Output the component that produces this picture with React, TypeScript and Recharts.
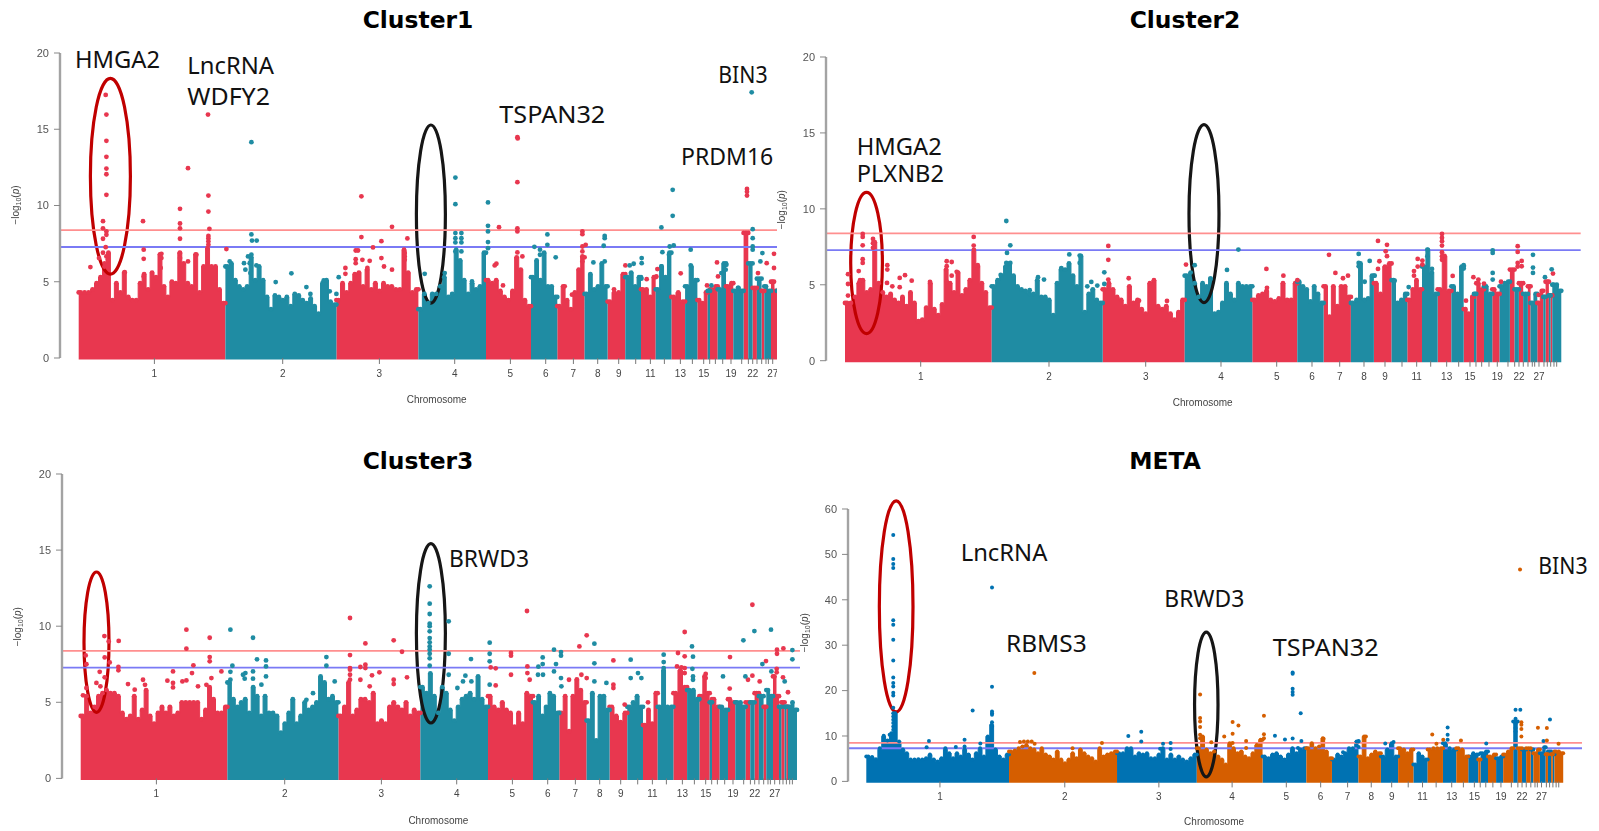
import React from 'react';
import { ComposedChart, Area, Scatter, XAxis, YAxis, ReferenceLine, ReferenceArea, Label } from 'recharts';

type Pt = [number, number];

const chrLengths = [146.7, 111, 82, 67.6, 45, 26.3, 27.3, 23, 17.7, 15.7, 14.7, 15.7, 13.7, 12.3, 10.3, 2.3, 7.7, 8.3, 7.3, 10.3, 4.7, 4.3, 4.3, 4.7, 2.7, 6.7, 6, 2.3, 3.3, 1.7, 1.7, 9];
const chrTicks = [75.7, 204, 300.7, 376, 431.7, 467, 494.7, 519, 540, 557, 571.7, 585.7, 601.7, 613.7, 625, 631, 636.7, 644, 652.3, 663, 669.7, 674, 678.3, 683, 687.3, 689.7, 694, 699, 702.3, 705.7, 709, 711.7];
const chrTickLabels = ['1', '2', '3', '4', '5', '6', '7', '8', '9', '', '11', '', '13', '', '15', '', '', '', '19', '', '', '22', '', '', '', '', '27', '', '', '', '', ''];

const RED = '#e8374f';
const TEAL = '#1f8ca3';
const BLUE = '#0072b2';
const ORANGE = '#d55e00';

const cluster1Envelope: number[][] = [
  [4.3, 4.3, 4.3, 4.5, 4.9, 5.3, 6.0, 6.9, 3.8, 4.9, 4.3, 5.6, 4.0, 3.8, 3.8, 4.9, 5.5, 4.5, 5.6, 5.3, 6.8, 4.7, 4.0, 5.0, 4.9, 6.9, 6.2, 4.9, 4.7, 6.8, 4.3, 6.0, 7.2, 6.0, 6.0, 4.5, 3.6],
  [6.0, 6.2, 5.1, 4.7, 4.5, 4.7, 6.6, 5.1, 6.0, 5.1, 4.0, 3.2, 4.1, 4.0, 3.8, 4.0, 3.4, 4.2, 4.1, 3.8, 3.6, 3.9, 3.4, 2.9, 4.9, 5.1, 3.7, 3.5],
  [3.8, 4.9, 4.3, 4.9, 5.5, 5.6, 4.7, 5.8, 4.5, 4.9, 4.4, 4.9, 4.7, 4.7, 4.5, 4.5, 7.1, 5.6, 4.3, 4.5],
  [3.2, 4.2, 3.6, 4.2, 4.2, 4.7, 5.3, 4.0, 4.2, 7.1, 6.4, 5.1, 4.2, 4.9, 4.5, 4.7, 6.9],
  [5.1, 4.9, 5.1, 4.4, 4.0, 3.8, 4.4, 6.6, 5.8, 3.8, 3.4],
  [5.3, 6.4, 5.1, 6.9, 4.7, 4.7, 4.0],
  [3.4, 4.7, 3.8, 3.2, 4.3, 5.8, 6.6],
  [4.2, 5.5, 4.5, 4.7, 6.2, 4.7],
  [3.7, 4.3, 4.3, 5.5],
  [5.3, 5.6, 4.7, 5.3],
  [4.5, 4.5, 4.0, 5.3],
  [4.5, 6.0, 5.3, 6.9],
  [4.0, 4.3, 3.7],
  [4.7, 6.0, 5.1],
  [3.8, 3.6, 4.3],
  [4.4],
  [4.5, 4.7],
  [4.5, 6.2],
  [4.7, 4.9],
  [4.4, 4.6, 4.4],
  [8.2],
  [6.2],
  [4.6],
  [5.2],
  [4.4],
  [4.7, 4.4],
  [5.0, 4.4],
  [4.4],
  [4.6],
  [4.2],
  [4.2],
  [4.4, 4.6, 4.2],
];
const cluster1RedPoints: Pt[] = [[27, 17.25], [27.7, 15.96], [27.7, 14.24], [27.7, 13.19], [27.7, 12.42], [27.7, 12.05], [27.7, 10.7], [24.3, 8.97], [24.3, 8.5], [27.7, 8.3], [27.7, 8.08], [24.3, 7.82], [27, 7.27], [24.3, 6.9], [27.7, 6.66], [20.3, 6.55], [29, 6.44], [26, 6.2], [11.7, 5.96], [46, 5.63], [64.3, 8.97], [65, 7.1], [65, 6.5], [65, 5.35], [82.7, 6.83], [82.7, 6.55], [82, 5.9], [101.3, 9.78], [101.3, 8.82], [101.3, 8.5], [101.3, 7.82], [101.3, 6.88], [101.3, 6.55], [102.7, 6.1], [109.3, 12.45], [109.3, 6.33], [117.7, 6.77], [129.3, 15.96], [129.7, 10.65], [129.7, 9.6], [130.7, 8.47], [129.7, 8], [129.7, 7.84], [129.7, 7.64], [129.7, 7.42], [147.7, 7.14], [282.7, 10.6], [282.7, 7.93], [313.3, 8.6], [294.3, 7.25], [302.7, 7.66], [277, 7.05], [279.3, 7.05], [277, 6.48], [277, 6.22], [283.7, 6.44], [291, 6.37], [302.7, 6.55], [305.3, 6], [313.3, 5.79], [288.7, 5.9], [266.7, 5.9], [266.7, 5.52], [326, 6.88], [326, 6.66], [326, 6.44], [328.7, 7.84], [420.3, 8.58], [438.7, 14.48], [439, 14.4], [438.7, 11.53], [438.7, 8.5], [438.7, 8.3], [438.7, 6.92], [443.7, 6.66], [417.7, 6.18], [416, 6.07], [424.3, 4.76], [503.7, 8.3], [503.7, 8.12], [507, 7.42], [503.7, 7.31], [503.7, 6.99], [503.7, 6.66], [503.7, 6.33], [486, 4.7], [493.3, 4.15], [546.7, 6.07], [535.3, 4.5], [568, 5.17], [578.7, 5.83], [577.7, 5.35], [602, 5.55], [628.3, 4.76], [638.3, 6.27], [639.3, 5.35], [668.3, 11.09], [668.3, 10.9], [668.3, 10.65], [695.3, 6.83], [688, 6.22], [695.3, 5.9], [695.3, 5], [679.3, 5.57]];
const cluster1TealPoints: Pt[] = [[172.7, 14.15], [172.7, 8.1], [173.3, 7.7], [178, 7.7], [172.7, 6.77], [169.3, 6.66], [165.3, 6.22], [171, 6.22], [177.7, 6.07], [166.7, 5.79], [171.7, 5.57], [151, 6.33], [212.7, 5.55], [197, 4.98], [227.7, 4.65], [231.7, 4.2], [251, 4.37], [245, 5.09], [260, 5.3], [257.7, 4.2], [376.7, 11.83], [376.7, 10.09], [376.7, 8.19], [376.7, 7.86], [376.7, 7.58], [382.7, 8.19], [382.7, 7.86], [382.7, 7.58], [376.7, 6.99], [382.7, 6.99], [409.3, 10.2], [409.3, 8.67], [409.3, 8.3], [409.3, 7.6], [409.3, 7.2], [346, 5.52], [366, 5.57], [393.3, 5.02], [455.7, 7.29], [468.7, 8.1], [468.7, 7.42], [461.3, 7.1], [461.3, 6.77], [477, 6.6], [526, 8], [526, 7.86], [525, 7.36], [514.7, 6.27], [526, 6.33], [551, 6.07], [555, 6.18], [563, 6.55], [563, 6.22], [562.7, 5.2], [582.7, 8.56], [583.7, 6.94], [591, 7.31], [595, 7.38], [594, 11.03], [594, 9.32], [590.3, 6.77], [582.7, 6], [612, 7.1], [612, 6.07], [632.7, 4.76], [642.7, 5.57], [647.7, 6.11], [647, 5.79], [659.3, 4.6], [673, 17.42], [674, 8.45], [674, 7.86], [674, 7.31], [674, 7.1], [683.7, 6.88], [681.7, 6.33]];

const cluster2Envelope: number[][] = [
  [3.8, 3.8, 4.2, 5.1, 5.3, 4.5, 4.7, 7.8, 5.1, 4.5, 4.2, 4.4, 4.0, 3.8, 4.2, 3.6, 4.5, 3.8, 2.6, 2.7, 3.5, 5.1, 3.4, 3.0, 3.7, 6.0, 5.1, 4.5, 5.8, 4.3, 4.7, 5.3, 7.3, 6.2, 5.1, 4.5, 3.5],
  [4.9, 5.3, 5.6, 6.2, 6.4, 5.6, 4.9, 4.7, 4.6, 4.4, 4.4, 5.3, 4.2, 4.2, 4.0, 3.0, 5.1, 6.0, 6.0, 6.4, 5.6, 4.9, 6.9, 3.2, 4.4, 4.7, 4.0, 3.8],
  [4.7, 5.1, 4.7, 4.2, 4.0, 3.6, 4.9, 3.8, 4.0, 3.4, 3.1, 5.1, 5.3, 3.6, 3.4, 3.6, 3.1, 2.7, 3.2, 4.0],
  [5.6, 5.8, 5.1, 4.2, 5.1, 4.9, 5.4, 3.1, 3.2, 3.8, 5.1, 4.4, 4.0, 5.1, 4.9, 4.9, 4.9],
  [4.0, 4.3, 4.4, 4.6, 4.0, 3.9, 4.1, 5.1, 4.0, 4.0, 5.1],
  [5.2, 4.9, 4.7, 3.9, 4.9, 4.4, 3.8],
  [4.9, 2.9, 4.9, 3.6, 4.9, 4.9, 4.2],
  [3.8, 4.0, 6.4, 4.0, 4.1, 5.6],
  [5.1, 4.4, 6.2, 6.4],
  [5.3, 3.8, 4.0, 4.4],
  [4.0, 4.7, 5.3, 4.7],
  [6.2, 7.3, 5.8, 4.4],
  [4.7, 6.9, 4.6],
  [4.9, 4.4, 6.2],
  [3.4, 3.1, 4.2],
  [4.4],
  [5.1, 4.7],
  [4.9, 4.4],
  [4.7, 4.4],
  [4.9, 5.1, 5.2],
  [6.0],
  [4.7],
  [5.1],
  [4.4],
  [4.9],
  [3.8, 4.4],
  [3.8, 4.6],
  [4.2],
  [5.2],
  [4.3],
  [4.3],
  [5.0, 5.0, 4.6],
];
const cluster2RedPoints: Pt[] = [[3, 5.7], [3, 5.05], [3, 4.29], [13.7, 5.9], [17.7, 8.35], [17.7, 8.15], [17.7, 7.6], [17.7, 6.68], [17.7, 6.44], [15, 5.3], [28, 8.02], [28, 7.74], [28, 7.43], [42.3, 6.29], [42.3, 6], [42, 5.12], [47.3, 4.9], [54.7, 5.45], [54.7, 4.84], [60, 5.63], [66.7, 5.27], [85, 5.19], [101.7, 6.55], [101.7, 6.22], [106.7, 6.5], [106.7, 5.6], [111.7, 5.85], [101.7, 5.2], [128.7, 8.15], [128.7, 7.58], [132.7, 6.29], [263.3, 7.56], [263.3, 6.64], [263.3, 5.34], [283.7, 5.43], [341, 6.33], [322, 3.93], [294, 3.95], [421.4, 6.04], [438.4, 5.6], [452.4, 5.3], [422, 4.8], [484, 6.97], [490.4, 5.78], [498, 5.43], [503, 5.6], [533, 7.89], [542, 7.63], [540.7, 7.2], [542, 6.88], [534.4, 6.55], [533, 6.04], [572.7, 6.7], [577.4, 6.59], [572.7, 6.2], [569, 5.9], [577.4, 6.33], [569, 5.6], [597, 8.35], [597, 8.09], [597, 7.87], [597, 7.58], [597, 7.14], [597, 6.88], [597, 6.64], [607.7, 5.58], [621, 3.95], [628.4, 5.5], [633.4, 5.34], [639, 5.08], [656, 5.2], [672.7, 7.54], [672.7, 7.16], [672.7, 6.44], [672.7, 6.2], [676.7, 6.57], [676.7, 6.22], [693.7, 4.33], [708, 5.74]];
const cluster2TealPoints: Pt[] = [[161.3, 9.2], [165.3, 7.6], [162, 7.1], [155.7, 5.65], [161.3, 6.44], [165.3, 6.44], [184.7, 4.64], [199, 5.34], [193, 5.5], [224.3, 7], [234.7, 6.92], [234.7, 6.44], [246.3, 5.19], [252.3, 4.95], [242.3, 4.9], [216.3, 6.1], [259.3, 5.82], [259.3, 5.05], [393.4, 7.32], [382, 5.98], [349.7, 6.29], [365.4, 5.4], [513.7, 7.03], [513.7, 6.44], [513.7, 6.22], [524.7, 6.57], [519.7, 5.2], [529.7, 5.6], [549.7, 5.27], [563.7, 4.85], [582.4, 7.32], [582.4, 6.88], [587, 6.04], [618.7, 6.29], [618.7, 6.07], [647.7, 7.27], [647.7, 7.1], [647.7, 5.78], [647.7, 5.34], [688, 6.97], [688, 6.13], [688, 5.78], [706.7, 6.02], [700, 5.5], [711.4, 4.9]];

const cluster3Envelope: number[][] = [
  [4.1, 5.4, 4.3, 4.7, 5.4, 5.6, 5.8, 5.6, 5.6, 5.4, 4.3, 3.9, 4.1, 5.4, 3.9, 4.5, 5.8, 4.1, 3.6, 4.3, 4.7, 4.3, 4.7, 4.1, 4.3, 5.0, 5.0, 5.0, 5.0, 5.0, 3.9, 4.5, 6.0, 5.2, 4.3, 4.3, 4.7],
  [6.3, 5.2, 4.7, 5.0, 5.2, 4.3, 6.0, 5.4, 4.1, 5.4, 4.3, 4.3, 4.1, 3.0, 3.6, 4.3, 5.2, 3.6, 4.1, 5.0, 4.5, 4.7, 5.0, 6.7, 6.3, 5.2, 5.4, 5.0],
  [4.1, 4.7, 6.3, 4.1, 4.5, 5.2, 5.2, 5.0, 5.6, 3.6, 3.8, 3.6, 4.7, 5.0, 4.7, 4.5, 5.0, 4.1, 4.5, 4.3],
  [6.0, 5.6, 6.9, 5.4, 4.3, 6.0, 5.6, 4.5, 3.8, 4.7, 5.2, 5.4, 5.6, 5.2, 6.7, 5.2, 4.7],
  [5.4, 4.7, 4.5, 5.0, 4.5, 4.3, 3.4, 4.3, 3.6, 5.6, 5.4],
  [5.0, 5.4, 4.1, 4.7, 5.6, 5.4, 4.3],
  [4.3, 5.4, 3.1, 5.4, 6.5, 5.8, 5.0],
  [3.8, 5.6, 2.5, 5.4, 5.4, 4.5],
  [4.7, 4.1, 3.7, 4.3],
  [4.7, 5.0, 5.4, 4.7],
  [3.5, 4.5, 3.6, 5.6],
  [4.7, 7.1, 4.7, 4.7],
  [5.6, 7.1, 6.0],
  [5.8, 5.8, 5.2],
  [5.4, 6.7, 5.6],
  [5.0],
  [5.2, 4.7],
  [4.7, 4.5],
  [5.2, 5.0],
  [5.0, 5.0, 4.7],
  [5.0],
  [5.0],
  [5.6],
  [5.4],
  [4.7],
  [5.8, 5.4],
  [6.7, 5.4],
  [4.7],
  [5.0],
  [4.7],
  [4.7],
  [4.7, 5.0, 4.5],
];
const cluster3RedPoints: Pt[] = [[23.7, 9.35], [28, 9], [38, 9.03], [5, 8.08], [5.7, 7.5], [24, 7.95], [29, 7.62], [37.7, 7.32], [37.7, 7.1], [19, 7], [24, 6.64], [5.7, 5.94], [15.7, 6.27], [19.7, 6.05], [2.3, 5.46], [47.3, 6.2], [54, 5.83], [62.3, 6.48], [64.3, 6.15], [92.3, 7.03], [86.7, 6.42], [92.3, 6.27], [92.3, 5.98], [105.7, 9.77], [105.7, 8.52], [112.7, 7.43], [111.3, 6.92], [101.7, 6.37], [105.7, 6.44], [117.3, 6.05], [129, 9.24], [129, 7.97], [129, 7.69], [130.7, 6.59], [140.7, 7.03], [125.7, 6.15], [269.3, 10.54], [269.3, 8.1], [269.3, 7.25], [269.3, 7.14], [284.7, 8.87], [284.7, 7.47], [284.7, 7.25], [279.7, 7.32], [291.3, 6.77], [298.7, 6.97], [313, 9.07], [321.3, 8.32], [326.3, 6.64], [313, 6.48], [313, 6.2], [269.3, 6.81], [269.3, 6.48], [279.7, 6.48], [289, 6.05], [410, 7.29], [415, 7.23], [415, 6.11], [430.3, 8.24], [430.3, 8.06], [430.3, 6.81], [446.3, 11], [446.7, 7.36], [446.7, 6.92], [449, 6.48], [488.3, 6.48], [498.7, 8.67], [506, 9.4], [500.7, 6.81], [506, 6.59], [532.7, 7.75], [532.7, 6.16], [532.7, 5.94], [544, 4.85], [567.3, 5], [597.3, 8.24], [604, 9.62], [604, 8.02], [596.3, 7.36], [604, 7.25], [600.7, 7.29], [604, 6.92], [625, 6.86], [625, 6.59], [649.3, 7.97], [649, 5.9], [671.7, 11.41], [671.7, 6.75], [667.3, 6.48], [685.3, 7.71], [679, 6.37], [696.3, 8.46], [696.3, 8.19], [702.7, 8.54], [696, 7.2], [696, 6.97], [702.3, 6.64], [707.3, 5.66]];
const cluster3TealPoints: Pt[] = [[149.7, 9.77], [151.7, 7.4], [149.7, 7], [149.7, 6.48], [172.3, 9.24], [176.3, 7.82], [185.3, 7.75], [185.3, 7.36], [172.3, 7.03], [164.7, 6.92], [162.3, 6.81], [172.3, 6.55], [185.3, 6.7], [180.7, 6.16], [164, 6.55], [245.7, 7.97], [245.7, 7.4], [254, 6.37], [232.3, 5.6], [225.7, 5.16], [349, 12.62], [349, 11.48], [349, 10.8], [349, 10.16], [349, 10], [349, 9.66], [349, 9.22], [349, 8.94], [349, 8.67], [349, 8.46], [349, 8.19], [349, 7.89], [349, 7.4], [368, 10.32], [368, 8.19], [368, 6.81], [390.3, 7.84], [384.7, 6.75], [382.3, 6.37], [390.7, 6.37], [376.7, 5.94], [409, 8.92], [409, 8.19], [409, 7.69], [409, 6.16], [457.7, 7.34], [462, 7.95], [462, 7.51], [457.3, 6.81], [462.3, 6.81], [473.3, 8.46], [480.3, 8.3], [480.3, 8.06], [475.3, 7.51], [473.3, 7.03], [480.3, 6.59], [480.7, 6.05], [513.7, 8.85], [513.7, 7.56], [513.7, 6.37], [525.7, 6.27], [550, 7.8], [550, 6.59], [557.3, 6.92], [560.7, 6.59], [583, 8.13], [583, 7.64], [583, 7.25], [611.3, 8.67], [612.3, 8], [611.7, 7.2], [612.3, 6.7], [612.3, 6.48], [642.3, 6.7], [662.7, 9.07], [664.7, 6.7], [673.7, 9.68], [681.7, 7.51], [690.3, 9.77], [690.7, 7.03], [711.7, 8.43], [711.7, 7.82], [704, 6.37]];

const metaEnvelope: number[][] = [
  [5.5, 5.4, 4.9, 7.3, 9.9, 9.0, 10.6, 15, 8.8, 7, 6.2, 4.8, 4.8, 4.9, 4.8, 5.1, 5.9, 4.8, 4.4, 5.1, 7.3, 6.2, 5.1, 6.2, 5.5, 7, 5.9, 4.8, 6.2, 7.3, 5.5, 9.9, 12.5, 7, 5.5, 4.8, 5.9],
  [6.6, 6.8, 7.3, 7.7, 8.0, 7.3, 7, 6.2, 7.3, 5.9, 5.5, 4.8, 6.6, 4.8, 4.0, 4.8, 6.2, 5.1, 7, 6.2, 5.5, 5.1, 4.4, 7.3, 5.5, 5.9, 6.2, 6.6],
  [6.2, 6.2, 7.3, 7.3, 5.5, 6.2, 5.9, 6.2, 5.1, 5.1, 5.9, 7.3, 4.8, 5.9, 4.8, 5.5, 4.8, 4.4, 5.1, 5.9],
  [7.3, 9.9, 7, 6.2, 6.6, 5.5, 4.8, 3.7, 8.4, 7.3, 6.2, 6.6, 5.5, 5.1, 6.2, 8, 9.2],
  [5.5, 5.1, 5.9, 6.2, 5.5, 4.8, 5.9, 7.3, 6.2, 7, 7.3],
  [7.3, 8.4, 7.3, 7.7, 9.5, 6.6, 5.1],
  [4.8, 5.9, 5.5, 6.2, 7.3, 7.3, 8.8],
  [5.5, 9.9, 5.1, 5.9, 6.6, 6.2],
  [5.5, 7, 8.4, 5.5],
  [7.3, 7, 6.2, 7],
  [3.7, 6.2, 5.5, 4.8],
  [7, 7.3, 7.3, 7.3],
  [8.4, 7.3, 7],
  [7.3, 7, 5.5],
  [5.5, 6.2, 5.9],
  [4.8],
  [6.2, 6.6],
  [5.5, 5.9],
  [5.1, 5.5],
  [5.9, 6.6, 7.3],
  [13.2],
  [7.3],
  [7],
  [7.3],
  [7],
  [6.2, 7],
  [6.2, 7.5],
  [6],
  [6.6],
  [6],
  [6],
  [6.6, 6.6, 6.2],
];
const metaBluePoints: Pt[] = [[27.7, 54.3], [27.7, 49], [27.7, 47.9], [27.7, 47], [27.7, 35.5], [27.7, 34.5], [27.7, 31.2], [27.7, 26.65], [27.7, 22.9], [27.7, 21.7], [27.7, 20.9], [27.7, 19.5], [27.7, 18.9], [27.7, 16.2], [27.7, 15], [27.7, 14.3], [27.7, 13.6], [27.7, 12.85], [27.7, 12.1], [27.7, 11.4], [27.7, 10.6], [17.9, 10.06], [24, 10.3], [129.2, 42.7], [129.2, 20.85], [129.2, 15.4], [129.2, 15], [129.2, 14.7], [129.2, 13], [129.2, 12.1], [109.3, 15.64], [64.4, 8.88], [62, 7.5], [101, 9.18], [101, 7.7], [92, 7.56], [117.2, 8.37], [269.3, 9.99], [282.6, 10.94], [282.6, 8.8], [305, 8.3], [312.8, 8.44], [312.8, 7.12], [302, 7.2], [420, 10.06], [430.3, 9.25], [438.2, 24.0], [438.2, 23.7], [438.2, 20.4], [438.2, 19.7], [438.2, 19.1], [446.5, 15], [438.2, 9.47], [447.2, 8.88], [438.2, 7.2], [443.7, 7.35], [506, 8.88], [506, 7.56], [490, 6.4], [533.4, 8.37], [541.9, 8.66], [597.5, 11.89], [597.5, 10.3], [597.5, 9.18], [637.2, 8.37], [667.3, 15.79], [672.2, 15.79], [667.3, 13.8], [667.3, 12.7], [667.3, 11.75], [667.3, 11], [702.7, 13.66], [696, 8.9]];
const metaOrangePoints: Pt[] = [[172.7, 23.86], [158, 8.66], [162, 8.8], [166, 8.8], [170, 8.8], [173, 8.3], [242.2, 8.44], [212, 7.3], [343.1, 19.16], [343.1, 13.95], [343.1, 13.2], [343.1, 12], [343.1, 10.3], [343.1, 9.5], [354.6, 8.6], [367.9, 9.9], [376.5, 13.07], [376.5, 10.5], [382.5, 12.33], [376.5, 8.45], [390.4, 8.88], [390.4, 7.34], [408.7, 14.46], [408.7, 10.4], [408.7, 9.5], [470, 9.4], [513.5, 9.9], [581.7, 10.35], [586, 8.3], [593, 9.18], [611.2, 9], [671.9, 46.7], [673.3, 13], [673.3, 12.5], [673.3, 11.53], [673.3, 9.9], [690.3, 11.82], [699.5, 11.75], [699.5, 9], [711.5, 8.3]];

const thresholdsCluster = [8.38, 7.28];
const thresholdsMeta = [8.5, 7.3];

function rowsFrom(env: number[][]) {
  const rows: { x: number; odd: number | null; even: number | null }[] = [];
  let start = 0;
  env.forEach((vals, c) => {
    const len = chrLengths[c];
    const key = c % 2 === 0 ? 'odd' : 'even';
    const push = (x: number, v: number) => {
      rows.push({ x, odd: key === 'odd' ? v : null, even: key === 'even' ? v : null });
    };
    push(start, vals[0]);
    vals.forEach((v, i) => push(start + ((i + 0.5) / vals.length) * len, v));
    push(start + len, vals[vals.length - 1]);
    start += len;
  });
  return rows;
}

const toPts = (pts: Pt[]) => pts.map(([x, y]) => ({ x, y }));

type Ell = { x1: number; x2: number; y1: number; y2: number; color: string };

const ellipseShape = (color: string) => (p: any) => (
  <ellipse cx={p.x + p.width / 2} cy={p.y + p.height / 2} rx={p.width / 2} ry={p.height / 2} fill="none" stroke={color} strokeWidth={3.2} />
);

type PanelProps = {
  axisX: number; y0: number; yTop: number; yMax: number; yTicks: number[];
  xDomain: [number, number]; lineEnd: number; clipRight?: number;
  envelope: number[][]; pointsA: Pt[]; pointsB: Pt[]; colorA: string; colorB: string;
  thresholds: number[]; ellipses: Ell[]; dotR: number; baseValue: number;
  xLabelX: number; xLabelY: number; yLabelX: number; yLabelY: number;
};

function Panel(props: PanelProps) {
  const { axisX, y0, yTop, yMax, yTicks, xDomain, lineEnd, clipRight, envelope, pointsA, pointsB, colorA, colorB, thresholds, ellipses, dotR, baseValue, xLabelX, xLabelY, yLabelX, yLabelY } = props;
  const L = axisX - 60;
  const T = yTop - 35;
  const W = lineEnd - L;
  const xAxisH = 60;
  const H = y0 - T + xAxisH;
  const rows = rowsFrom(envelope);
  return (
    <div style={{ position: 'absolute', left: L, top: T, width: (clipRight ?? lineEnd) - L, height: H, overflow: 'hidden', filter: 'blur(0.45px)' }}>
      <ComposedChart width={W} height={H} data={rows} margin={{ top: 35, right: 0, bottom: 0, left: 0 }}>
        <XAxis dataKey="x" type="number" domain={xDomain} ticks={chrTicks} interval={0} height={xAxisH} axisLine={false}
          tickLine={{ stroke: '#777' }} tickSize={6} tickMargin={6}
          tick={{ fontSize: 10, fill: '#444', fontFamily: 'Liberation Sans' }}
          tickFormatter={(v: any) => chrTickLabels[chrTicks.indexOf(v)] ?? ''}>
          <Label content={() => (
            <text x={xLabelX - L} y={xLabelY - T} textAnchor="middle" fontSize={10} fill="#444" fontFamily="Liberation Sans">Chromosome</text>
          )} />
        </XAxis>
        <YAxis type="number" width={60} domain={[0, yMax]} ticks={yTicks} interval={0}
          axisLine={{ stroke: '#a3a3a3', strokeWidth: 2.4 }} tickLine={{ stroke: '#888' }} tickSize={6} tickMargin={5}
          tick={{ fontSize: 11, fill: '#555', fontFamily: 'Liberation Sans' }}>
          <Label content={() => (
            <text transform={`translate(${yLabelX - L},${yLabelY - T}) rotate(-90)`} textAnchor="middle" fontSize={10} fill="#444" fontFamily="Liberation Sans">
              −log<tspan fontSize={7} dy={2}>10</tspan><tspan dy={-2}>(</tspan><tspan fontStyle="italic">p</tspan>)
            </text>
          )} />
        </YAxis>
        <Area dataKey="odd" type="step" baseValue={baseValue} stroke={colorA} fill={colorA} fillOpacity={1} strokeWidth={1}
          dot={{ r: dotR, fill: colorA, stroke: 'none' }} activeDot={false} connectNulls={false} isAnimationActive={false} />
        <Area dataKey="even" type="step" baseValue={baseValue} stroke={colorB} fill={colorB} fillOpacity={1} strokeWidth={1}
          dot={{ r: dotR, fill: colorB, stroke: 'none' }} activeDot={false} connectNulls={false} isAnimationActive={false} />
        <Scatter data={toPts(pointsA)} dataKey="y" fill={colorA} isAnimationActive={false}
          shape={(p: any) => <circle cx={p.cx} cy={p.cy} r={dotR} fill={colorA} />} />
        <Scatter data={toPts(pointsB)} dataKey="y" fill={colorB} isAnimationActive={false}
          shape={(p: any) => <circle cx={p.cx} cy={p.cy} r={dotR} fill={colorB} />} />
        <ReferenceLine y={thresholds[0]} stroke="#ff8f8f" strokeWidth={1.8} ifOverflow="visible" />
        <ReferenceLine y={thresholds[1]} stroke="#7a7af5" strokeWidth={1.8} ifOverflow="visible" />
        {ellipses.map((e, i) => (
          <ReferenceArea key={i} x1={e.x1} x2={e.x2} y1={e.y1} y2={e.y2} ifOverflow="visible" shape={ellipseShape(e.color)} />
        ))}
      </ComposedChart>
    </div>
  );
}

const DARK_RED = '#c00000';
const BLACK = '#161616';

const titles: { text: string; x: number; y: number }[] = [
  { text: 'Cluster1', x: 418, y: 28 },
  { text: 'Cluster2', x: 1185, y: 28 },
  { text: 'Cluster3', x: 418, y: 469 },
  { text: 'META', x: 1165, y: 469 },
];
const geneLabels: { text: string; x: number; y: number; w: number }[] = [
  { text: 'HMGA2', x: 75, y: 68.3, w: 85 },
  { text: 'LncRNA', x: 187.3, y: 74, w: 86.7 },
  { text: 'WDFY2', x: 187.3, y: 105, w: 82.7 },
  { text: 'TSPAN32', x: 499.3, y: 122.7, w: 106 },
  { text: 'BIN3', x: 718.3, y: 83.3, w: 49.3 },
  { text: 'PRDM16', x: 681, y: 165, w: 92.3 },
  { text: 'HMGA2', x: 856.7, y: 155, w: 85 },
  { text: 'PLXNB2', x: 856.7, y: 182.3, w: 87.3 },
  { text: 'BRWD3', x: 449, y: 566.7, w: 80 },
  { text: 'LncRNA', x: 960.7, y: 560.7, w: 86.7 },
  { text: 'RBMS3', x: 1006, y: 651.7, w: 80.7 },
  { text: 'BRWD3', x: 1164.3, y: 607.3, w: 80 },
  { text: 'TSPAN32', x: 1272.7, y: 655.7, w: 106 },
  { text: 'BIN3', x: 1538.3, y: 574, w: 49.3 },
];

export default function App() {
  return (
    <div style={{ position: 'absolute', left: 0, top: 0, width: 1599, height: 831, background: '#fff', overflow: 'hidden' }}>
      <Panel axisX={60.3} y0={358} yTop={53} yMax={20} yTicks={[0, 5, 10, 15, 20]} xDomain={[-18.7, 736]} lineEnd={815} clipRight={777}
        envelope={cluster1Envelope} pointsA={cluster1RedPoints} pointsB={cluster1TealPoints} colorA={RED} colorB={TEAL} thresholds={thresholdsCluster}
        ellipses={[{ x1: 11.7, x2: 51.7, y1: 5.5, y2: 18.34, color: DARK_RED }, { x1: 337.7, x2: 366.7, y1: 3.6, y2: 15.28, color: BLACK }]}
        dotR={2.4} baseValue={-0.1} xLabelX={437} xLabelY={403} yLabelX={19} yLabelY={205} />
      <Panel axisX={826.3} y0={361} yTop={57.3} yMax={20} yTicks={[0, 5, 10, 15, 20]} xDomain={[-19, 735.7]} lineEnd={1581}
        envelope={cluster2Envelope} pointsA={cluster2RedPoints} pointsB={cluster2TealPoints} colorA={RED} colorB={TEAL} thresholds={thresholdsCluster}
        ellipses={[{ x1: 5.7, x2: 37.4, y1: 1.78, y2: 11.09, color: DARK_RED }, { x1: 344, x2: 374, y1: 3.82, y2: 15.55, color: BLACK }]}
        dotR={2.4} baseValue={-0.1} xLabelX={1203} xLabelY={406} yLabelX={785} yLabelY={210} />
      <Panel axisX={62.3} y0={778.7} yTop={474.3} yMax={20} yTicks={[0, 5, 10, 15, 20]} xDomain={[-18.7, 736]} lineEnd={817} clipRight={800}
        envelope={cluster3Envelope} pointsA={cluster3RedPoints} pointsB={cluster3TealPoints} colorA={RED} colorB={TEAL} thresholds={thresholdsCluster}
        ellipses={[{ x1: 3.3, x2: 28.3, y1: 4.34, y2: 13.56, color: DARK_RED }, { x1: 335.7, x2: 364.7, y1: 3.64, y2: 15.42, color: BLACK }]}
        dotR={2.4} baseValue={-0.1} xLabelX={438.7} xLabelY={824} yLabelX={21} yLabelY={627} />
      <Panel axisX={847.7} y0={781.7} yTop={509.3} yMax={60} yTicks={[0, 10, 20, 30, 40, 50, 60]} xDomain={[-18.8, 735.6]} lineEnd={1581.7}
        envelope={metaEnvelope} pointsA={metaBluePoints} pointsB={metaOrangePoints} colorA={BLUE} colorB={ORANGE} thresholds={thresholdsMeta}
        ellipses={[{ x1: 13.4, x2: 48, y1: 15.3, y2: 61.8, color: DARK_RED }, { x1: 337.4, x2: 361.5, y1: 1, y2: 32.9, color: BLACK }]}
        dotR={2} baseValue={-0.3} xLabelX={1213.8} xLabelY={825} yLabelX={808} yLabelY={633} />
      <svg width={1599} height={831} style={{ position: 'absolute', left: 0, top: 0, pointerEvents: 'none' }}>
        {titles.map((t) => (
          <text key={t.text} x={t.x} y={t.y} textAnchor="middle" fontFamily="DejaVu Sans" fontWeight={700} fontSize={23.4} fill="#000">{t.text}</text>
        ))}
        {geneLabels.map((t) => (
          <text key={t.text + t.x} x={t.x} y={t.y} fontFamily="Noto Sans" fontSize={23.5} fill="#111" textLength={t.w} lengthAdjust="spacingAndGlyphs">{t.text}</text>
        ))}
      </svg>
    </div>
  );
}
